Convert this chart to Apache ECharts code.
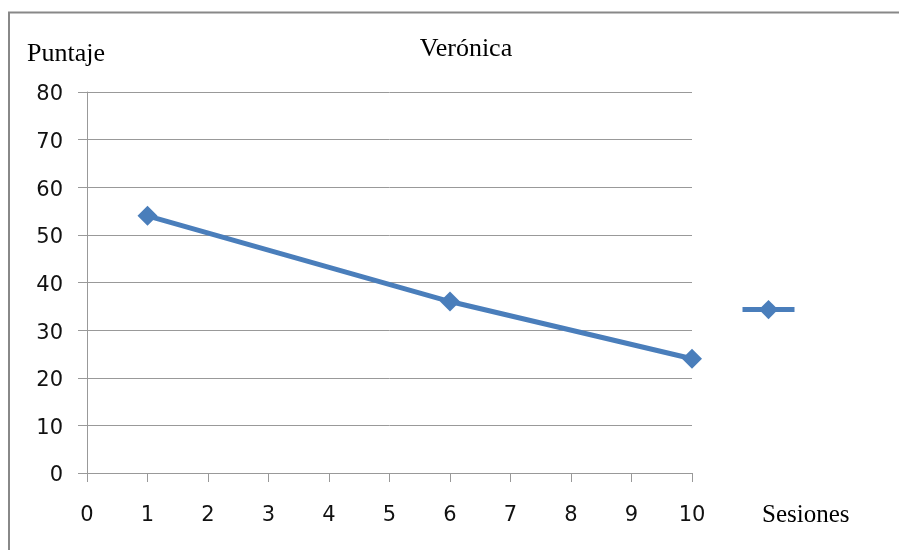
<!DOCTYPE html>
<html><head><meta charset="utf-8">
<script src="https://cdn.jsdelivr.net/npm/echarts@6/dist/echarts.min.js"></script>
<style>html,body{margin:0;padding:0;background:#fff}#c{width:899px;height:550px}</style>
</head><body><div id="c"></div>
<script>
const sesiones = [1, 6, 10];
const puntaje = [54, 36, 24];
const titleText = 'Verónica';
const yName = 'Puntaje';
const xName = 'Sesiones';

const chart = echarts.init(document.getElementById('c'));
chart.setOption({
  animation: false,
  graphic: [{type:'polyline', shape:{points:[[9,560],[9,12.5],[910,12.5]]}, style:{fill:'none', stroke:'#888', lineWidth:2}}],
  title: [
    {text: titleText, left: 461, top: 31, textAlign:'center', textStyle:{fontFamily:'Liberation Serif', fontSize:26, fontWeight:'normal', color:'#000'}},
    {text: yName, left: 22, top: 36, textStyle:{fontFamily:'Liberation Serif', fontSize:26, fontWeight:'normal', color:'#000'}},
    {text: xName, left: 757, top: 498, textStyle:{fontFamily:'Liberation Serif', fontSize:25, fontWeight:'normal', color:'#000'}}
  ],
  legend: {left: 735, top: 295, itemWidth: 52, itemHeight: 24, data:[' '], textStyle:{fontSize:1},
    lineStyle:{width:5}},
  grid: {left: 87, right: 207, top: 92, bottom: 77},
  xAxis: {type:'value', min:0, max:10, interval:1,
    axisLine:{lineStyle:{color:'#999', width:1}}, axisTick:{length:9, lineStyle:{color:'#999'}},
    splitLine:{show:false},
    axisLabel:{margin:32, fontFamily:'DejaVu Sans', fontSize:21, color:'#111'}},
  yAxis: {type:'value', min:0, max:80, interval:10,
    axisLine:{show:true, lineStyle:{color:'#999', width:1}}, axisTick:{show:true, length:9, lineStyle:{color:'#999'}},
    splitLine:{lineStyle:{color:'#999', width:1}},
    axisLabel:{margin:24, formatter:'{a|{value}}', rich:{a:{padding:[6,0,0,0], fontFamily:'DejaVu Sans', fontSize:21, color:'#111'}}, fontFamily:'DejaVu Sans', fontSize:21, color:'#111'}},
  series: [{name:' ', type:'line', data: sesiones.map((s,i)=>[s, puntaje[i]]),
    symbol:'diamond', symbolSize:20, lineStyle:{color:'#4a7ebb', width:5}, itemStyle:{color:'#4a7ebb'}}]
});
</script></body></html>
